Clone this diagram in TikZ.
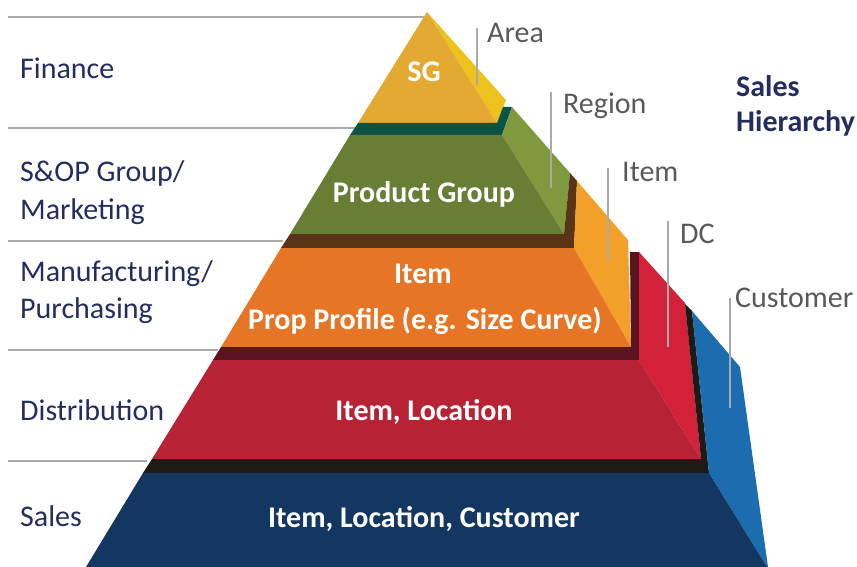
\documentclass[tikz,border=0pt]{standalone}
\usepackage{fontspec}
\setmainfont{Carlito}
\definecolor{navytxt}{RGB}{36,44,96}
\definecolor{graytxt}{RGB}{89,89,89}
\definecolor{linegray}{RGB}{170,170,170}
\definecolor{goldF}{RGB}{227,169,51}
\definecolor{goldS}{RGB}{238,194,28}
\definecolor{bandA}{RGB}{10,83,69}
\definecolor{greenF}{RGB}{105,126,53}
\definecolor{greenS}{RGB}{127,153,63}
\definecolor{bandB}{RGB}{90,52,22}
\definecolor{orangeF}{RGB}{230,118,38}
\definecolor{orangeS}{RGB}{243,160,42}
\definecolor{bandC}{RGB}{90,20,32}
\definecolor{redF}{RGB}{183,34,52}
\definecolor{redS}{RGB}{211,33,57}
\definecolor{bandD}{RGB}{30,26,22}
\definecolor{navyF}{RGB}{19,55,97}
\definecolor{blueS}{RGB}{28,109,176}
\begin{document}
\begin{tikzpicture}[x=1pt,y=-1pt,
  lefttxt/.style={anchor=base west,text=navytxt,font=\fontsize{30}{36}\selectfont,inner sep=0pt},
  righttxt/.style={anchor=base west,text=graytxt,font=\fontsize{30}{36}\selectfont,inner sep=0pt},
  headtxt/.style={anchor=base west,text=navytxt,font=\bfseries\fontsize{30}{36}\selectfont,inner sep=0pt},
  intxt/.style={anchor=base,text=white,font=\bfseries\fontsize{30}{36}\selectfont,inner sep=0pt},
  sepline/.style={draw=linegray,line width=1.2pt},
  tickline/.style={draw=linegray,line width=1.2pt}]
\useasboundingbox (0,0) rectangle (857,567);
% separator lines
\coordinate (s1a) at (8,17);  \coordinate (s1b) at (428,17);
\coordinate (s2a) at (8,128); \coordinate (s2b) at (358,128);
\coordinate (s3a) at (8,241); \coordinate (s3b) at (283,241);
\coordinate (s4a) at (8,350); \coordinate (s4b) at (218,350);
\coordinate (s5a) at (8,461); \coordinate (s5b) at (147,461);
\draw[sepline] (s1a) -- (s1b);
\draw[sepline] (s2a) -- (s2b);
\draw[sepline] (s3a) -- (s3b);
\draw[sepline] (s4a) -- (s4b);
\draw[sepline] (s5a) -- (s5b);
% level 1
\fill[goldS] (427,12) -- (506,100) -- (503,107) -- (497,123) -- cycle;
\fill[goldF] (427,12) -- (497,123) -- (358,123) -- cycle;
\fill[bandA] (358,123) -- (497,123) -- (503,107) -- (512,107) -- (502,135) -- (350,135) -- cycle;
% level 2
\fill[greenS] (502,135) -- (512,107) -- (570,173) -- (564,234) -- cycle;
\fill[greenF] (350,135) -- (502,135) -- (564,234) -- (290,234) -- cycle;
\fill[bandB] (290,234) -- (564,234) -- (570,173) -- (577,181) -- (574,248) -- (281,248) -- cycle;
% level 3
\fill[orangeS] (574,248) -- (577,181) -- (628,240) -- (631,347) -- cycle;
\fill[orangeF] (281,248) -- (574,248) -- (631,347) -- (221,347) -- cycle;
\fill[bandC] (221,347) -- (631,347) -- (630,252) -- (639,252) -- (639,360) -- (213,360) -- cycle;
% level 4
\fill[redS] (639,360) -- (639,252) -- (685,303) -- (701,459) -- cycle;
\fill[redF] (213,360) -- (639,360) -- (701,459) -- (152,459) -- cycle;
\fill[bandD] (152,459) -- (701,459) -- (685,304) -- (692,311) -- (709,473) -- (143,473) -- cycle;
% level 5
\fill[blueS] (709,473) -- (692,311) -- (740,367) -- (768,567) -- (767,567) -- cycle;
\fill[navyF] (143,473) -- (709,473) -- (767,567) -- (86,567) -- cycle;
% texts in pyramid
\node[intxt] (sg) at (424,82) {SG};
\node[intxt] (pg) at (424,202) {Product Group};
\node[intxt] (it) at (423,283) {Item};
\node[intxt] (pp) at (425,329) {Prop Profile (e.g. Size Curve)};
\node[intxt] (il) at (424,420) {Item, Location};
\node[intxt] (ilc) at (424,527) {Item, Location, Customer};
% left labels
\node[lefttxt] (fin) at (20,79) {Finance};
\node[lefttxt] (sop) at (20,182) {S\&OP Group/};
\node[lefttxt] (mkt) at (20,219) {Marketing};
\node[lefttxt] (man) at (20,281) {Manufacturing/};
\node[lefttxt] (pur) at (20,318) {Purchasing};
\node[lefttxt] (dis) at (20,420) {Distribution};
\node[lefttxt] (sal) at (20,526) {Sales};
% right labels
\node[righttxt] (area) at (487,43) {Area};
\node[righttxt] (reg) at (563,114) {Region};
\node[righttxt] (itm) at (622,182) {Item};
\node[righttxt] (dc) at (680,243) {DC};
\node[righttxt] (cus) at (735,307) {Customer};
\node[headtxt] (sh1) at (736,97) {Sales};
\node[headtxt] (sh2) at (736,132) {Hierarchy};
% tick lines
\coordinate (t1a) at (477,28);  \coordinate (t1b) at (477,85);
\coordinate (t2a) at (551,92);  \coordinate (t2b) at (551,188);
\coordinate (t3a) at (608,168); \coordinate (t3b) at (608,260);
\coordinate (t4a) at (668,221); \coordinate (t4b) at (668,347);
\coordinate (t5a) at (730,298); \coordinate (t5b) at (730,408);
\draw[tickline] (t1a) -- (t1b);
\draw[tickline] (t2a) -- (t2b);
\draw[tickline] (t3a) -- (t3b);
\draw[tickline] (t4a) -- (t4b);
\draw[tickline] (t5a) -- (t5b);
\end{tikzpicture}
\end{document}
